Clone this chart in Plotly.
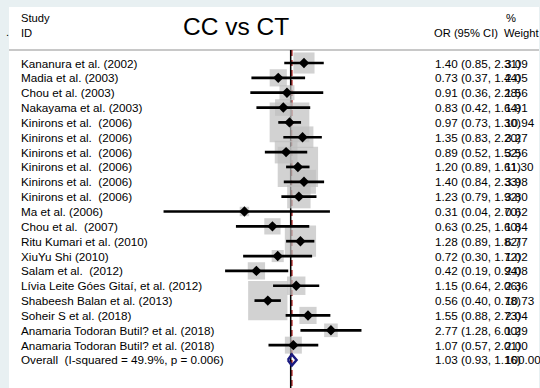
import numpy as np
import plotly.graph_objects as go

NB = "\u00a0"
studies = [
    "Kananura et al. (2002)", "Madia et al. (2003)", "Chou et al. (2003)",
    "Nakayama et al. (2003)",
    "Kinirons et al." + NB + " (2006)", "Kinirons et al." + NB + " (2006)",
    "Kinirons et al." + NB + " (2006)", "Kinirons et al." + NB + " (2006)",
    "Kinirons et al." + NB + " (2006)", "Kinirons et al." + NB + " (2006)",
    "Ma et al. (2006)", "Chou et al." + NB + " (2007)", "Ritu Kumari et al. (2010)",
    "XiuYu Shi (2010)", "Salam et al." + NB + " (2012)",
    "Lívia Leite Góes Gitaí, et al. (2012)", "Shabeesh Balan et al. (2013)",
    "Soheir S et al. (2018)", "Anamaria Todoran Butil? et al. (2018)",
    "Anamaria Todoran Butil? et al. (2018)",
]
or_vals = [1.40, 0.73, 0.91, 0.83, 0.97, 1.35, 0.89, 1.20, 1.40, 1.23,
           0.31, 0.63, 1.28, 0.72, 0.42, 1.15, 0.56, 1.55, 2.77, 1.07]
ci_low = [0.85, 0.37, 0.36, 0.42, 0.73, 0.83, 0.52, 0.89, 0.84, 0.79,
          0.04, 0.25, 0.89, 0.30, 0.19, 0.64, 0.40, 0.88, 1.28, 0.57]
ci_high = [2.31, 1.44, 2.28, 1.64, 1.30, 2.20, 1.52, 1.61, 2.33, 1.92,
           2.70, 1.60, 1.82, 1.72, 0.94, 2.06, 0.78, 2.73, 6.00, 2.01]
weights = [3.09, 2.05, 1.56, 1.91, 10.94, 3.27, 3.56, 11.30, 3.98, 3.80,
           0.62, 1.84, 6.77, 1.02, 2.08, 2.36, 10.73, 2.04, 1.29, 2.00]

overall_label = "Overall" + NB + " (I-squared = 49.9%, p = 0.006)"
overall_or = 1.03
overall_low = 0.93
overall_high = 1.16
overall_weight = 100.00

title_text = "CC vs CT"

n = len(studies)
rows = list(range(n))
overall_row = n

# pixel geometry helpers (plot area 9..539 x, 7..388 y)
PX_L, PX_R = 9, 539
def px(xp):
    return (xp - PX_L) / (PX_R - PX_L)

FONT = "Liberation Sans, Arial, sans-serif"
fs = 11.7

fig = go.Figure()

# reference lines (below boxes)
y_top_line = -0.875
y_bot = 21.886
shapes = [
    dict(type="line", xref="paper", yref="y", x0=0, x1=1, y0=y_top_line, y1=y_top_line,
         line=dict(color="#c8c8c8", width=2), layer="below"),
    dict(type="line", xref="x", yref="y", x0=overall_or, x1=overall_or, y0=y_top_line, y1=y_bot,
         line=dict(color="#b22222", width=1.5, dash="6px,4px"), layer="below"),
    dict(type="line", xref="x", yref="y", x0=1, x1=1, y0=y_top_line, y1=y_bot,
         line=dict(color="black", width=1.5), layer="below"),
]

# boxes
fig.add_trace(go.Scatter(
    x=or_vals, y=rows, mode="markers",
    marker=dict(symbol="square", size=[12 * np.sqrt(w) for w in weights],
                color="#bfbfbf", line=dict(width=0)),
    hoverinfo="skip"))

# CI lines
xs, ys = [], []
for lo, hi, r in zip(ci_low, ci_high, rows):
    xs += [lo, hi, None]
    ys += [r, r, None]
fig.add_trace(go.Scatter(x=xs, y=ys, mode="lines",
                         line=dict(color="black", width=2.7), hoverinfo="skip"))

# point estimates
fig.add_trace(go.Scatter(x=or_vals, y=rows, mode="markers",
                         marker=dict(symbol="diamond", size=8, color="black"),
                         hoverinfo="skip"))

# overall diamond
h = 0.37
fig.add_trace(go.Scatter(
    x=[overall_low, overall_or, overall_high, overall_or, overall_low],
    y=[overall_row, overall_row - h, overall_row, overall_row + h, overall_row],
    mode="lines", line=dict(color="#1a1a80", width=2.5), hoverinfo="skip"))

ann = []
def txt(x, y, s, size=fs, anchor="left"):
    ann.append(dict(x=x, y=y, xref="paper", yref="y", text=s, showarrow=False,
                    xanchor=anchor, yanchor="middle", borderpad=0,
                    font=dict(family=FONT, size=size, color="black")))

labels = studies + [overall_label]
or_all = or_vals + [overall_or]
lo_all = ci_low + [overall_low]
hi_all = ci_high + [overall_high]
w_all = weights + [overall_weight]
for i, (lab, o, lo, hi, w) in enumerate(zip(labels, or_all, lo_all, hi_all, w_all)):
    txt(px(20), i, lab)
    txt(px(434), i, f"{o:.2f} ({lo:.2f}, {hi:.2f})")
    txt(px(503.5), i, f"{w:.2f}")

# headers
txt(px(20), -3.03, "Study", size=11.2)
txt(px(20), -2.054, "ID", size=11.2)
txt(px(505), -3.03, "%", size=11.2)
txt(px(433), -2.054, "OR (95% CI)", size=11.2)
txt(px(503), -2.054, "Weight", size=11.2)
txt(px(236), -2.49, title_text, size=24.5, anchor="center")
# stray dot on left border
ann.append(dict(x=-2 / 530, y=-2.1, xref="paper", yref="y", text=".", showarrow=False,
                xanchor="center", yanchor="middle",
                font=dict(family=FONT, size=11, color="black")))

fig.update_layout(
    width=540, height=388,
    margin=dict(l=9, r=1, t=7, b=0),
    paper_bgcolor="#e8f0f2", plot_bgcolor="white",
    showlegend=False,
    shapes=shapes, annotations=ann,
    xaxis=dict(type="log", range=[-3.097, 2.730], visible=False, fixedrange=True),
    yaxis=dict(range=[y_bot, -3.771], visible=False, fixedrange=True),
)

fig.write_html("out.html")
